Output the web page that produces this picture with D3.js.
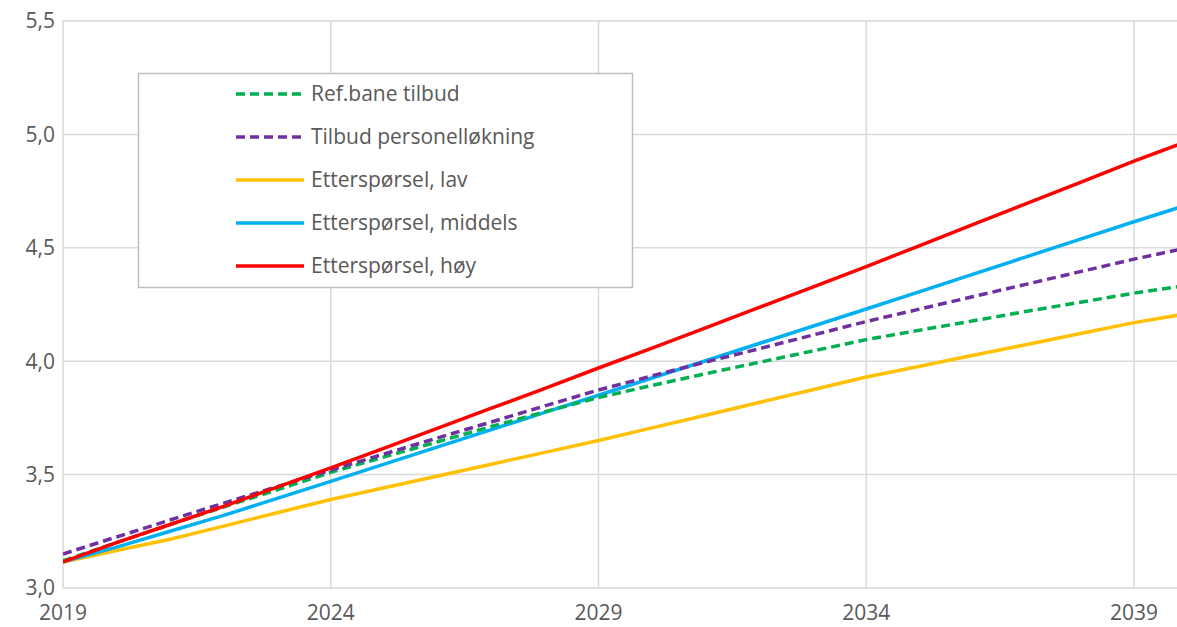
<!DOCTYPE html>
<html>
<head>
<meta charset="utf-8">
<script src="https://cdn.jsdelivr.net/npm/d3@7"></script>
<style>
  body { margin: 0; background: #fff; }
  text { font-family: "Open Sans", sans-serif; }
</style>
</head>
<body>
<script>
// Years on the x axis
var years = d3.range(2019, 2041);

// Series values, one per year 2019-2040
var refTilbud   = [3.12, 3.20, 3.28, 3.357, 3.433, 3.51, 3.578, 3.645, 3.712, 3.777, 3.84, 3.893, 3.945, 3.995, 4.045, 4.095, 4.137, 4.178, 4.22, 4.26, 4.30, 4.335];
var tilbudPers  = [3.15, 3.225, 3.30, 3.374, 3.447, 3.52, 3.591, 3.662, 3.732, 3.803, 3.873, 3.935, 3.996, 4.055, 4.115, 4.175, 4.23, 4.285, 4.34, 4.395, 4.45, 4.50];
var ettLav      = [3.115, 3.165, 3.215, 3.273, 3.332, 3.39, 3.442, 3.494, 3.546, 3.598, 3.65, 3.706, 3.762, 3.818, 3.874, 3.93, 3.978, 4.026, 4.074, 4.122, 4.17, 4.21];
var ettMiddels  = [3.115, 3.18, 3.25, 3.32, 3.395, 3.47, 3.546, 3.622, 3.698, 3.774, 3.85, 3.926, 4.002, 4.078, 4.154, 4.23, 4.307, 4.384, 4.461, 4.538, 4.615, 4.69];
var ettHoy      = [3.115, 3.20, 3.28, 3.36, 3.445, 3.53, 3.617, 3.705, 3.793, 3.88, 3.97, 4.058, 4.147, 4.237, 4.327, 4.417, 4.51, 4.603, 4.696, 4.789, 4.882, 4.97];

// Tick values
var xTicks = [2019, 2024, 2029, 2034, 2039];
var yTicks = [3.0, 3.5, 4.0, 4.5, 5.0, 5.5];

// Series definitions (legend order)
var series = [
    { name: "Ref.bane tilbud",         values: refTilbud,  color: "#00b050", dash: "9,5" },
    { name: "Tilbud personelløkning",  values: tilbudPers, color: "#7030a0", dash: "9,5" },
    { name: "Etterspørsel, lav",       values: ettLav,     color: "#ffc000", dash: null },
    { name: "Etterspørsel, middels",   values: ettMiddels, color: "#00b0f0", dash: null },
    { name: "Etterspørsel, høy",       values: ettHoy,     color: "#ff0000", dash: null }
];

var width = 1177;
var height = 627;
var plotLeft = 63, plotTop = 21, plotBottom = 588, plotRight = 1177;

var x = d3.scaleLinear().domain([2019, 2039]).range([plotLeft, 1134]);
var y = d3.scaleLinear().domain([3.0, 5.5]).range([plotBottom, plotTop]);

var svg = d3.select("body")
    .append("svg")
    .attr("width", width)
    .attr("height", height);

svg.append("defs").append("clipPath")
    .attr("id", "plot")
    .append("rect")
    .attr("x", plotLeft).attr("y", plotTop - 5)
    .attr("width", plotRight - plotLeft).attr("height", plotBottom - plotTop + 10);

// Horizontal gridlines
svg.append("g")
    .selectAll("line")
    .data(yTicks)
    .enter()
    .append("line")
    .attr("x1", plotLeft).attr("x2", plotRight)
    .attr("y1", d => y(d)).attr("y2", d => y(d))
    .attr("stroke", "#d9d9d9")
    .attr("stroke-width", 1.5);

// Vertical gridlines
svg.append("g")
    .selectAll("line")
    .data(xTicks)
    .enter()
    .append("line")
    .attr("x1", d => x(d)).attr("x2", d => x(d))
    .attr("y1", plotTop).attr("y2", plotBottom)
    .attr("stroke", "#d9d9d9")
    .attr("stroke-width", 1.5);

// Axis labels
svg.append("g")
    .selectAll("text")
    .data(yTicks)
    .enter()
    .append("text")
    .attr("x", 55)
    .attr("y", d => y(d))
    .attr("dy", "0.35em")
    .attr("text-anchor", "end")
    .attr("fill", "#595959")
    .style("font-size", "21px")
    .text(d => d3.format(".1f")(d).replace(".", ","));

svg.append("g")
    .selectAll("text")
    .data(xTicks)
    .enter()
    .append("text")
    .attr("x", d => x(d))
    .attr("y", 613)
    .attr("dy", "0.35em")
    .attr("text-anchor", "middle")
    .attr("fill", "#595959")
    .style("font-size", "21px")
    .text(d => d);

// Lines
var line = d3.line()
    .x((d, i) => x(years[i]))
    .y(d => y(d));

var drawOrder = [2, 3, 0, 1, 4];
svg.append("g")
    .attr("clip-path", "url(#plot)")
    .selectAll("path")
    .data(drawOrder.map(i => series[i]))
    .enter()
    .append("path")
    .attr("d", d => line(d.values))
    .attr("fill", "none")
    .attr("stroke", d => d.color)
    .attr("stroke-width", 3.5)
    .attr("stroke-dasharray", d => d.dash);

// Legend
var legend = svg.append("g");
legend.append("rect")
    .attr("x", 138.5).attr("y", 73.5)
    .attr("width", 494).attr("height", 214)
    .attr("fill", "#fff")
    .attr("stroke", "#bfbfbf")
    .attr("stroke-width", 1.5);

var item = legend.selectAll("g.item")
    .data(series)
    .enter()
    .append("g")
    .attr("transform", (d, i) => "translate(0," + (94 + i * 43) + ")");

item.append("line")
    .attr("x1", 236).attr("x2", 304)
    .attr("stroke", d => d.color)
    .attr("stroke-width", 3.5)
    .attr("stroke-dasharray", d => d.dash);

item.append("text")
    .attr("x", 311)
    .attr("dy", "0.35em")
    .attr("fill", "#595959")
    .style("font-size", "21px")
    .text(d => d.name);
</script>
</body>
</html>
